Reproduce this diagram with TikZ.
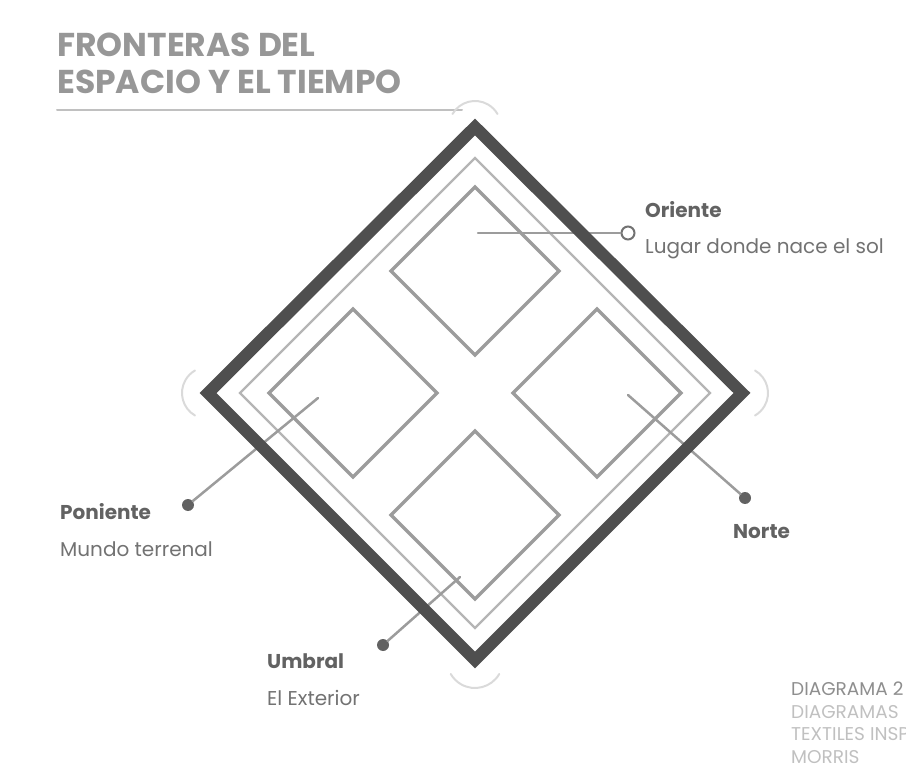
\documentclass[tikz,border=0pt]{standalone}
\usepackage{fontspec}
\setmainfont{Poppins}
\usepackage{xcolor}
\usetikzlibrary{positioning}
\definecolor{framegray}{HTML}{4F4F4F}
\definecolor{boxgray}{HTML}{9C9C9C}
\definecolor{arcgray}{HTML}{DADADA}
\definecolor{titlegray}{HTML}{979797}
\definecolor{labdark}{HTML}{626262}
\definecolor{labgray}{HTML}{727272}
\definecolor{notegray}{HTML}{C0C0C0}

\begin{document}
\begin{tikzpicture}[x=1pt,y=-1pt,line cap=round,
  outerframe/.style={draw=framegray,line width=12pt,line join=miter},
  innerframe/.style={draw=boxgray!75,line width=2.2pt,line join=miter},
  smallbox/.style={draw=boxgray,line width=3.5pt,line join=miter},
  cornerarc/.style={draw=arcgray,line width=2pt},
  leader/.style={draw=boxgray,line width=2.5pt},
  dotend/.style={circle,fill=labdark,inner sep=0,minimum size=12pt},
  ringend/.style={circle,draw=labgray,line width=2pt,fill=white,inner sep=0,minimum size=13pt},
  titleline/.style={anchor=base west,inner sep=0,text=titlegray,font=\fontsize{33}{37}\selectfont\bfseries},
  labhead/.style={anchor=base west,inner sep=0,text=labdark,font=\fontsize{20}{23}\selectfont\bfseries},
  labtext/.style={anchor=base west,inner sep=0,text=labgray,font=\fontsize{20}{23}\selectfont},
  noteline/.style={anchor=base west,inner sep=0,text=notegray,font=\fontsize{18.5}{22}\selectfont}]
\useasboundingbox (0,0) rectangle (906,778);
\clip (0,0) rectangle (906,778);

\node[titleline] (title1) at (57,57) {FRONTERAS DEL};
\node[titleline] (title2) at (57,94) {ESPACIO Y EL TIEMPO};
\draw[draw=notegray,line width=2pt] (57,110) -- (462,110);

\draw[cornerarc] (475,127) ++(210:26) arc (210:330:26);
\draw[cornerarc] (742,393) ++(-60:26) arc (-60:60:26);
\draw[cornerarc] (475,660) ++(30:28) arc (30:150:28);
\draw[cornerarc] (208,393) ++(120:26) arc (120:240:26);

\draw[innerframe] (475,158) -- (710,393) -- (475,628) -- (240,393) -- cycle;
\draw[smallbox] (475,187) -- (559,271) -- (475,355) -- (391,271) -- cycle;
\draw[smallbox] (353,309) -- (437,393) -- (353,477) -- (269,393) -- cycle;
\draw[smallbox] (597,309) -- (681,393) -- (597,477) -- (513,393) -- cycle;
\draw[smallbox] (475,431) -- (559,515) -- (475,599) -- (391,515) -- cycle;

\coordinate (topfrom) at (478,233);
\coordinate (leftfrom) at (318,398);
\coordinate (rightfrom) at (628,395);
\coordinate (bottomfrom) at (460,577);
\node[ringend] (topdot) at (628,233) {};
\node[dotend] (leftdot) at (188,505) {};
\node[dotend] (rightdot) at (745,498) {};
\node[dotend] (bottomdot) at (383,645) {};
\draw[leader] (topfrom) -- (topdot);
\draw[leader] (leftfrom) -- (leftdot);
\draw[leader] (rightfrom) -- (rightdot);
\draw[leader] (bottomfrom) -- (bottomdot);

\draw[outerframe] (475,127) -- (742,393) -- (475,660) -- (208,393) -- cycle;

\node[labhead] (toplab1) at (645,218) {Oriente};
\node[labtext] (toplab2) at (645,254) {Lugar donde nace el sol};
\node[labhead] (leftlab1) at (60,519) {Poniente};
\node[labtext] (leftlab2) at (60,556) {Mundo terrenal};
\node[labhead] (rightlab1) at (733,538) {Norte};
\node[labhead] (bottomlab1) at (267,668) {Umbral};
\node[labtext] (bottomlab2) at (267,705) {El Exterior};

\node[noteline,text=labgray!80] (note1) at (791,695) {DIAGRAMA 2};
\node[noteline] (note2) at (791,718) {DIAGRAMAS};
\node[noteline] (note3) at (791,740) {TEXTILES INSPIRADOS};
\node[noteline] (note4) at (791,763) {MORRIS};
\end{tikzpicture}
\end{document}
